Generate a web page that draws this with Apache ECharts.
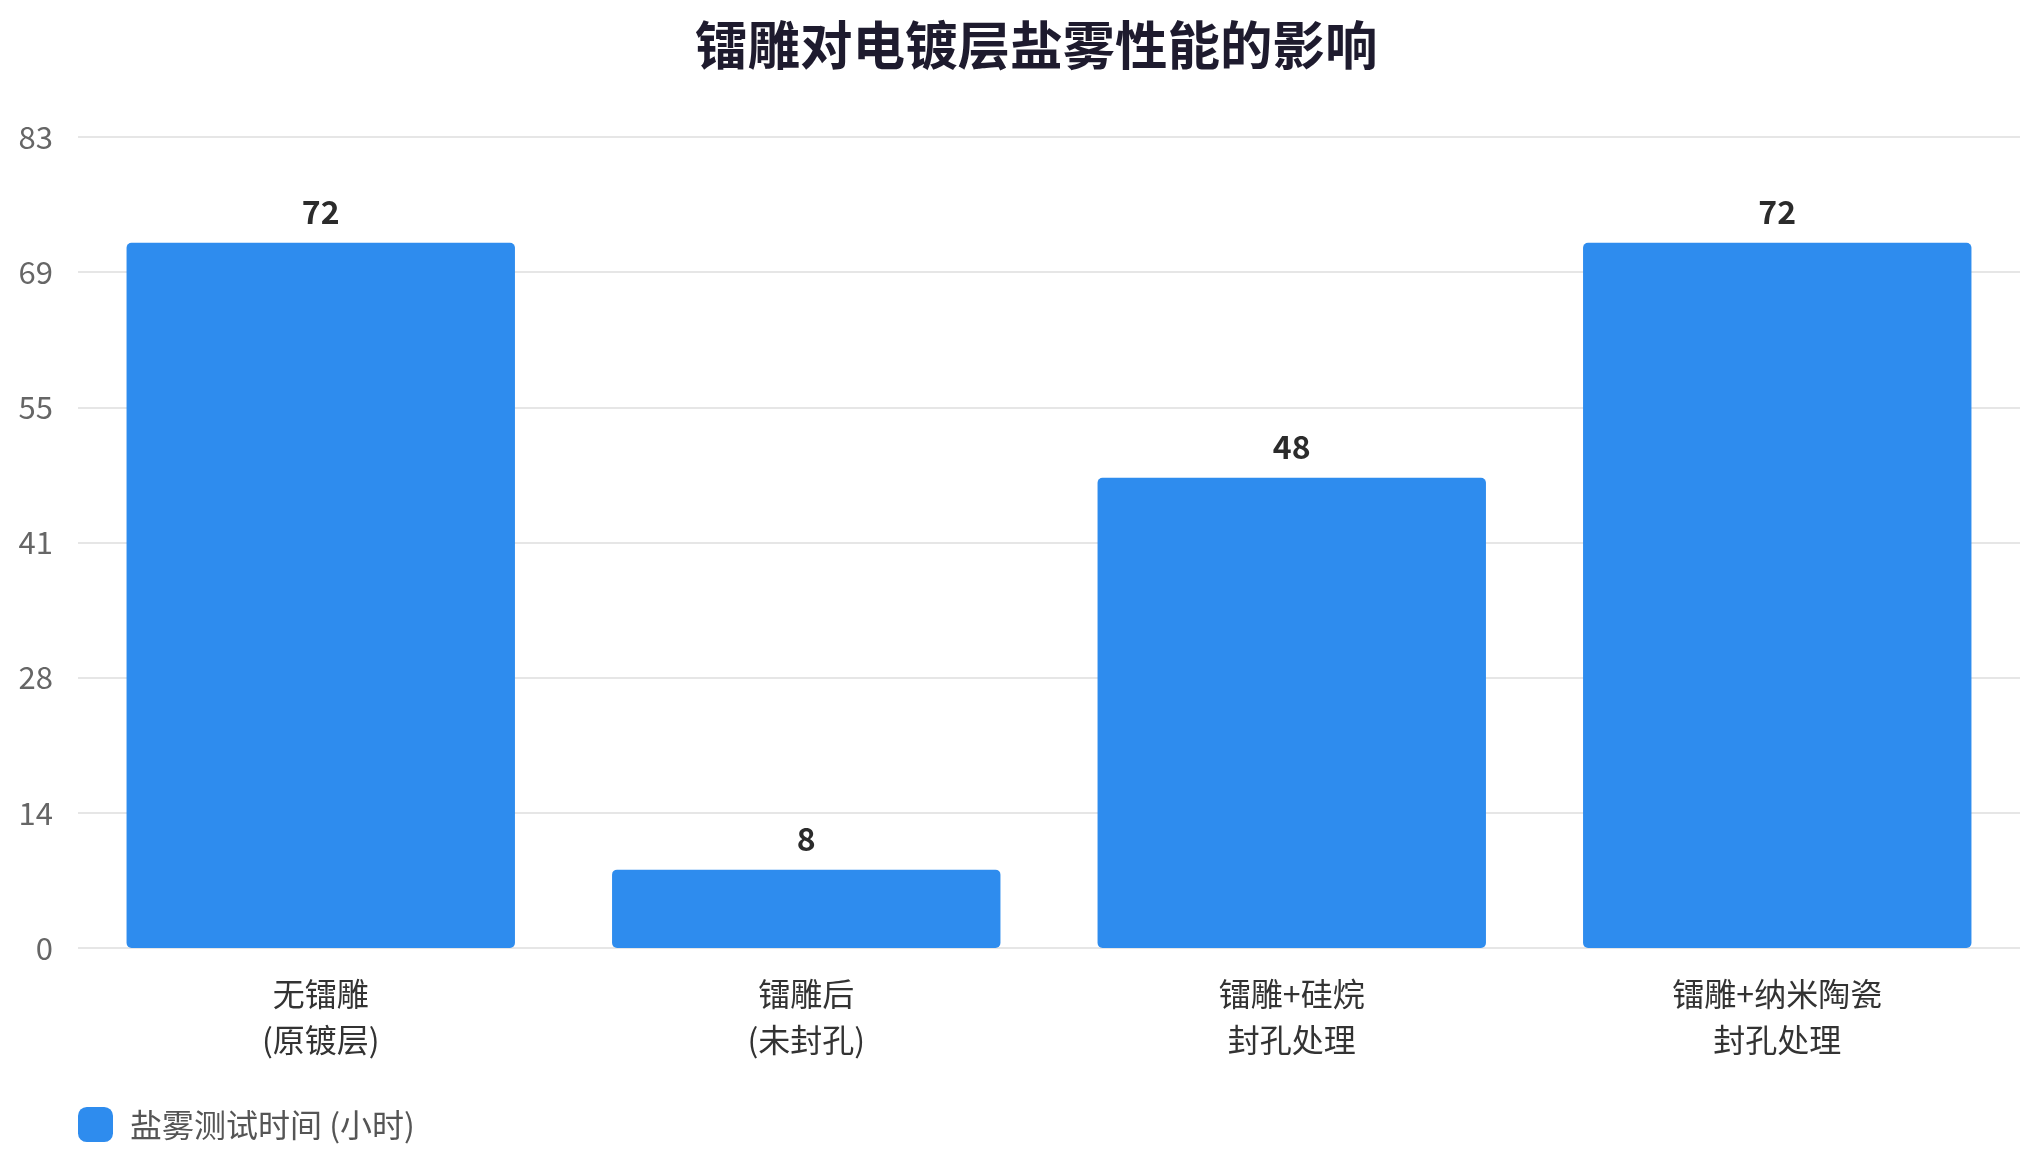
<!doctype html>
<html>
<head>
  <meta charset="utf-8">
  <title>镭雕对电镀层盐雾性能的影响</title>
  <script src="https://cdn.jsdelivr.net/npm/echarts@6/dist/echarts.min.js"></script>
  <style>
    html, body { margin: 0; padding: 0; background: #fff; }
  </style>
</head>
<body>
  <div id="main" style="width:2040px;height:1163px;"></div>
  <script>
  // data
  var categories = ['无镭雕\n(原镀层)', '镭雕后\n(未封孔)', '镭雕+硅烷\n封孔处理', '镭雕+纳米陶瓷\n封孔处理'];
  var saltHours = [72, 8, 48, 72];
  var seriesName = '盐雾测试时间 (小时)';
  var yMax = 82.8;
  var yStep = 13.8;

  var font = '"Noto Sans CJK SC", "Noto Sans", sans-serif';

  var option = {
    backgroundColor: '#fff',
    title: {
      text: '镭雕对电镀层盐雾性能的影响',
      left: 690,
      top: 14,
      textStyle: {
        fontFamily: font,
        fontSize: 52.5,
        fontWeight: 'bold',
        color: '#1e1b2e'
      }
    },
    legend: {
      left: 73,
      top: 1102,
      icon: 'roundRect',
      itemWidth: 35,
      itemHeight: 35,
      textStyle: {
        fontFamily: font,
        fontSize: 32,
        color: '#555',
        padding: [0, 0, 0, 12]
      },
      data: [seriesName]
    },
    grid: {
      left: 78,
      right: 20,
      top: 137,
      bottom: 215
    },
    xAxis: {
      type: 'category',
      data: categories,
      axisLine: { show: false },
      axisTick: { show: false },
      axisLabel: {
        margin: 23,
        fontFamily: font,
        fontSize: 32,
        lineHeight: 46,
        color: '#333'
      }
    },
    yAxis: {
      type: 'value',
      min: 0,
      max: yMax,
      interval: yStep,
      axisLine: { show: false },
      axisTick: { show: false },
      axisLabel: {
        margin: 25,
        fontFamily: font,
        fontSize: 31,
        color: '#666',
        formatter: function (v) { return Math.round(v); }
      },
      splitLine: {
        lineStyle: { color: '#e6e6e6', width: 2 }
      }
    },
    series: [
      {
        name: seriesName,
        type: 'bar',
        barWidth: '80%',
        data: saltHours,
        itemStyle: {
          color: '#2e8cee',
          borderRadius: 5
        },
        label: {
          show: true,
          position: 'top',
          distance: 15,
          fontFamily: font,
          fontSize: 32,
          fontWeight: 'bold',
          color: '#2b2b2b'
        }
      }
    ]
  };

  var myChart = echarts.init(document.getElementById('main'));
  myChart.setOption(option);
  </script>
</body>
</html>
